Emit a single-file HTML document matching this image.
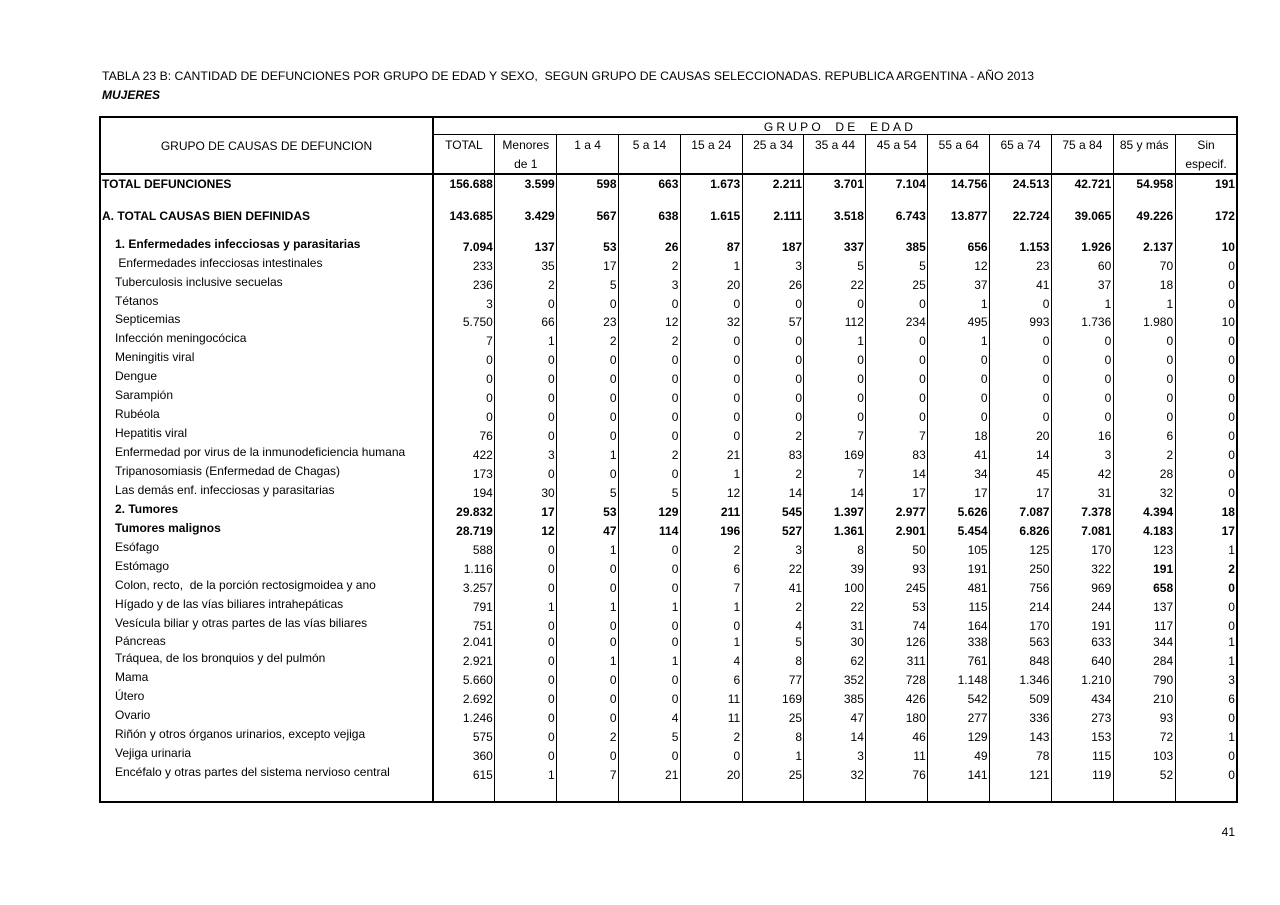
<!DOCTYPE html>
<html><head><meta charset="utf-8">
<style>
*{margin:0;padding:0}
html,body{width:1280px;height:905px;background:#fff;overflow:hidden}
body{position:relative;font-family:"Liberation Sans",Arial,sans-serif;font-size:12px;color:#000;line-height:14px}
.a{position:absolute}
.h{position:absolute;background:#000}
.r{position:absolute;left:0;width:1280px;height:14px}
.l{position:absolute;left:115px;top:-3px;white-space:pre}
.n{position:absolute;left:433px;top:0;display:flex}
.n span{display:block;width:61.85px;text-align:right;padding-right:2px;box-sizing:border-box}
.b{font-weight:bold}
.ch{position:absolute;top:138px;display:flex;left:433px}
.ch span{display:block;width:61.85px;text-align:center}
</style></head><body>

<div class="a" style="left:102px;top:69px;white-space:pre;font-size:12.24px">TABLA 23 B: CANTIDAD DE DEFUNCIONES POR GRUPO DE EDAD Y SEXO,  SEGUN GRUPO DE CAUSAS SELECCIONADAS. REPUBLICA ARGENTINA - AÑO 2013</div>
<div class="a" style="left:102px;top:88px;font-weight:bold;font-style:italic">MUJERES</div>

<!-- horizontal lines -->
<div class="h" style="left:100px;top:116px;width:1138px;height:2px"></div>
<div class="h" style="left:433px;top:134px;width:805px;height:1px"></div>
<div class="h" style="left:100px;top:173px;width:1138px;height:2px"></div>
<div class="h" style="left:100px;top:801px;width:1138px;height:2px"></div>
<!-- vertical lines -->
<div class="h" style="left:99px;top:116px;width:2px;height:687px"></div>
<div class="h" style="left:432px;top:116px;width:2px;height:687px"></div>
<div class="h" style="left:1236px;top:116px;width:2px;height:687px"></div>
<div class="h" style="left:494px;top:134px;width:1px;height:668px"></div>
<div class="h" style="left:556px;top:134px;width:1px;height:668px"></div>
<div class="h" style="left:618px;top:134px;width:1px;height:668px"></div>
<div class="h" style="left:680px;top:134px;width:1px;height:668px"></div>
<div class="h" style="left:742px;top:134px;width:1px;height:668px"></div>
<div class="h" style="left:803px;top:134px;width:1px;height:668px"></div>
<div class="h" style="left:865px;top:134px;width:1px;height:668px"></div>
<div class="h" style="left:927px;top:134px;width:1px;height:668px"></div>
<div class="h" style="left:989px;top:134px;width:1px;height:668px"></div>
<div class="h" style="left:1051px;top:134px;width:1px;height:668px"></div>
<div class="h" style="left:1113px;top:134px;width:1px;height:668px"></div>
<div class="h" style="left:1175px;top:134px;width:1px;height:668px"></div>

<!-- header -->
<div class="a" style="left:100px;width:333px;top:139px;text-align:center">GRUPO DE CAUSAS DE DEFUNCION</div>
<div class="a" style="left:438px;width:804px;top:120px;text-align:center;letter-spacing:3.2px;word-spacing:5px">GRUPO DE EDAD</div>
<div class="ch"><span>TOTAL</span><span>Menores</span><span>1 a 4</span><span>5 a 14</span><span>15 a 24</span><span>25 a 34</span><span>35 a 44</span><span>45 a 54</span><span>55 a 64</span><span>65 a 74</span><span>75 a 84</span><span>85 y más</span><span>Sin</span></div>
<div class="ch" style="top:157px"><span></span><span>de 1</span><span></span><span></span><span></span><span></span><span></span><span></span><span></span><span></span><span></span><span></span><span>especif.</span></div>

<!-- rows -->
<div class="r b" style="top:177px"><span class="l" style="left:102px;top:0">TOTAL DEFUNCIONES</span><div class="n"><span>156.688</span><span>3.599</span><span>598</span><span>663</span><span>1.673</span><span>2.211</span><span>3.701</span><span>7.104</span><span>14.756</span><span>24.513</span><span>42.721</span><span>54.958</span><span>191</span></div></div>
<div class="r b" style="top:209px"><span class="l" style="left:102px;top:0">A. TOTAL CAUSAS BIEN DEFINIDAS</span><div class="n"><span>143.685</span><span>3.429</span><span>567</span><span>638</span><span>1.615</span><span>2.111</span><span>3.518</span><span>6.743</span><span>13.877</span><span>22.724</span><span>39.065</span><span>49.226</span><span>172</span></div></div>
<div class="r b" style="top:240px"><span class="l">1. Enfermedades infecciosas y parasitarias</span><div class="n"><span>7.094</span><span>137</span><span>53</span><span>26</span><span>87</span><span>187</span><span>337</span><span>385</span><span>656</span><span>1.153</span><span>1.926</span><span>2.137</span><span>10</span></div></div>
<div class="r" style="top:259px"><span class="l"> Enfermedades infecciosas intestinales</span><div class="n"><span>233</span><span>35</span><span>17</span><span>2</span><span>1</span><span>3</span><span>5</span><span>5</span><span>12</span><span>23</span><span>60</span><span>70</span><span>0</span></div></div>
<div class="r" style="top:278px"><span class="l">Tuberculosis inclusive secuelas</span><div class="n"><span>236</span><span>2</span><span>5</span><span>3</span><span>20</span><span>26</span><span>22</span><span>25</span><span>37</span><span>41</span><span>37</span><span>18</span><span>0</span></div></div>
<div class="r" style="top:297px"><span class="l">Tétanos</span><div class="n"><span>3</span><span>0</span><span>0</span><span>0</span><span>0</span><span>0</span><span>0</span><span>0</span><span>1</span><span>0</span><span>1</span><span>1</span><span>0</span></div></div>
<div class="r" style="top:315px"><span class="l">Septicemias</span><div class="n"><span>5.750</span><span>66</span><span>23</span><span>12</span><span>32</span><span>57</span><span>112</span><span>234</span><span>495</span><span>993</span><span>1.736</span><span>1.980</span><span>10</span></div></div>
<div class="r" style="top:334px"><span class="l">Infección meningocócica</span><div class="n"><span>7</span><span>1</span><span>2</span><span>2</span><span>0</span><span>0</span><span>1</span><span>0</span><span>1</span><span>0</span><span>0</span><span>0</span><span>0</span></div></div>
<div class="r" style="top:353px"><span class="l">Meningitis viral</span><div class="n"><span>0</span><span>0</span><span>0</span><span>0</span><span>0</span><span>0</span><span>0</span><span>0</span><span>0</span><span>0</span><span>0</span><span>0</span><span>0</span></div></div>
<div class="r" style="top:372px"><span class="l">Dengue</span><div class="n"><span>0</span><span>0</span><span>0</span><span>0</span><span>0</span><span>0</span><span>0</span><span>0</span><span>0</span><span>0</span><span>0</span><span>0</span><span>0</span></div></div>
<div class="r" style="top:391px"><span class="l">Sarampión</span><div class="n"><span>0</span><span>0</span><span>0</span><span>0</span><span>0</span><span>0</span><span>0</span><span>0</span><span>0</span><span>0</span><span>0</span><span>0</span><span>0</span></div></div>
<div class="r" style="top:410px"><span class="l">Rubéola</span><div class="n"><span>0</span><span>0</span><span>0</span><span>0</span><span>0</span><span>0</span><span>0</span><span>0</span><span>0</span><span>0</span><span>0</span><span>0</span><span>0</span></div></div>
<div class="r" style="top:429px"><span class="l">Hepatitis viral</span><div class="n"><span>76</span><span>0</span><span>0</span><span>0</span><span>0</span><span>2</span><span>7</span><span>7</span><span>18</span><span>20</span><span>16</span><span>6</span><span>0</span></div></div>
<div class="r" style="top:448px"><span class="l">Enfermedad por virus de la inmunodeficiencia humana</span><div class="n"><span>422</span><span>3</span><span>1</span><span>2</span><span>21</span><span>83</span><span>169</span><span>83</span><span>41</span><span>14</span><span>3</span><span>2</span><span>0</span></div></div>
<div class="r" style="top:467px"><span class="l">Tripanosomiasis (Enfermedad de Chagas)</span><div class="n"><span>173</span><span>0</span><span>0</span><span>0</span><span>1</span><span>2</span><span>7</span><span>14</span><span>34</span><span>45</span><span>42</span><span>28</span><span>0</span></div></div>
<div class="r" style="top:486px"><span class="l">Las demás enf. infecciosas y parasitarias</span><div class="n"><span>194</span><span>30</span><span>5</span><span>5</span><span>12</span><span>14</span><span>14</span><span>17</span><span>17</span><span>17</span><span>31</span><span>32</span><span>0</span></div></div>
<div class="r b" style="top:505px"><span class="l">2. Tumores</span><div class="n"><span>29.832</span><span>17</span><span>53</span><span>129</span><span>211</span><span>545</span><span>1.397</span><span>2.977</span><span>5.626</span><span>7.087</span><span>7.378</span><span>4.394</span><span>18</span></div></div>
<div class="r b" style="top:524px"><span class="l">Tumores malignos</span><div class="n"><span>28.719</span><span>12</span><span>47</span><span>114</span><span>196</span><span>527</span><span>1.361</span><span>2.901</span><span>5.454</span><span>6.826</span><span>7.081</span><span>4.183</span><span>17</span></div></div>
<div class="r" style="top:543px"><span class="l">Esófago</span><div class="n"><span>588</span><span>0</span><span>1</span><span>0</span><span>2</span><span>3</span><span>8</span><span>50</span><span>105</span><span>125</span><span>170</span><span>123</span><span>1</span></div></div>
<div class="r" style="top:562px"><span class="l">Estómago</span><div class="n"><span>1.116</span><span>0</span><span>0</span><span>0</span><span>6</span><span>22</span><span>39</span><span>93</span><span>191</span><span>250</span><span>322</span><span class="b">191</span><span class="b">2</span></div></div>
<div class="r" style="top:581px"><span class="l">Colon, recto,  de la porción rectosigmoidea y ano</span><div class="n"><span>3.257</span><span>0</span><span>0</span><span>0</span><span>7</span><span>41</span><span>100</span><span>245</span><span>481</span><span>756</span><span>969</span><span class="b">658</span><span class="b">0</span></div></div>
<div class="r" style="top:600px"><span class="l">Hígado y de las vías biliares intrahepáticas</span><div class="n"><span>791</span><span>1</span><span>1</span><span>1</span><span>1</span><span>2</span><span>22</span><span>53</span><span>115</span><span>214</span><span>244</span><span>137</span><span>0</span></div></div>
<div class="r" style="top:619px"><span class="l">Vesícula biliar y otras partes de las vías biliares</span><div class="n"><span>751</span><span>0</span><span>0</span><span>0</span><span>0</span><span>4</span><span>31</span><span>74</span><span>164</span><span>170</span><span>191</span><span>117</span><span>0</span></div></div>
<div class="r" style="top:635px"><span class="l" style="top:-1px">Páncreas</span><div class="n"><span>2.041</span><span>0</span><span>0</span><span>0</span><span>1</span><span>5</span><span>30</span><span>126</span><span>338</span><span>563</span><span>633</span><span>344</span><span>1</span></div></div>
<div class="r" style="top:654px"><span class="l">Tráquea, de los bronquios y del pulmón</span><div class="n"><span>2.921</span><span>0</span><span>1</span><span>1</span><span>4</span><span>8</span><span>62</span><span>311</span><span>761</span><span>848</span><span>640</span><span>284</span><span>1</span></div></div>
<div class="r" style="top:673px"><span class="l">Mama</span><div class="n"><span>5.660</span><span>0</span><span>0</span><span>0</span><span>6</span><span>77</span><span>352</span><span>728</span><span>1.148</span><span>1.346</span><span>1.210</span><span>790</span><span>3</span></div></div>
<div class="r" style="top:692px"><span class="l">Útero</span><div class="n"><span>2.692</span><span>0</span><span>0</span><span>0</span><span>11</span><span>169</span><span>385</span><span>426</span><span>542</span><span>509</span><span>434</span><span>210</span><span>6</span></div></div>
<div class="r" style="top:711px"><span class="l">Ovario</span><div class="n"><span>1.246</span><span>0</span><span>0</span><span>4</span><span>11</span><span>25</span><span>47</span><span>180</span><span>277</span><span>336</span><span>273</span><span>93</span><span>0</span></div></div>
<div class="r" style="top:730px"><span class="l">Riñón y otros órganos urinarios, excepto vejiga</span><div class="n"><span>575</span><span>0</span><span>2</span><span>5</span><span>2</span><span>8</span><span>14</span><span>46</span><span>129</span><span>143</span><span>153</span><span>72</span><span>1</span></div></div>
<div class="r" style="top:749px"><span class="l">Vejiga urinaria</span><div class="n"><span>360</span><span>0</span><span>0</span><span>0</span><span>0</span><span>1</span><span>3</span><span>11</span><span>49</span><span>78</span><span>115</span><span>103</span><span>0</span></div></div>
<div class="r" style="top:768px"><span class="l">Encéfalo y otras partes del sistema nervioso central</span><div class="n"><span>615</span><span>1</span><span>7</span><span>21</span><span>20</span><span>25</span><span>32</span><span>76</span><span>141</span><span>121</span><span>119</span><span>52</span><span>0</span></div></div>

<div class="a" style="left:1200px;width:35px;top:825px;text-align:right">41</div>
</body></html>
